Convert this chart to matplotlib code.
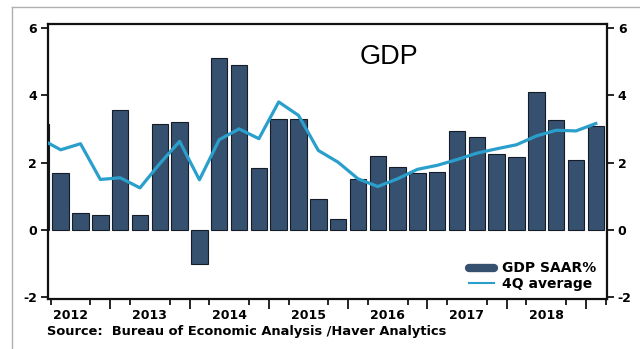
import numpy as np
import matplotlib.pyplot as plt
from matplotlib.lines import Line2D

# quarterly data, 2012Q1 .. 2019Q1
quarters = ['2012Q1', '2012Q2', '2012Q3', '2012Q4',
            '2013Q1', '2013Q2', '2013Q3', '2013Q4',
            '2014Q1', '2014Q2', '2014Q3', '2014Q4',
            '2015Q1', '2015Q2', '2015Q3', '2015Q4',
            '2016Q1', '2016Q2', '2016Q3', '2016Q4',
            '2017Q1', '2017Q2', '2017Q3', '2017Q4',
            '2018Q1', '2018Q2', '2018Q3', '2018Q4',
            '2019Q1']
gdp_saar = [3.15, 1.70, 0.49, 0.45, 3.57, 0.46, 3.14, 3.19,
            -1.01, 5.09, 4.89, 1.85, 3.30, 3.30, 0.92, 0.33,
            1.50, 2.21, 1.88, 1.69, 1.72, 2.93, 2.75, 2.26,
            2.16, 4.10, 3.27, 2.08, 3.10]
avg_4q = [2.70, 2.38, 2.56, 1.50, 1.55, 1.25, 1.97, 2.63,
          1.49, 2.68, 3.00, 2.71, 3.80, 3.40, 2.36, 2.01,
          1.52, 1.29, 1.52, 1.80, 1.92, 2.09, 2.28, 2.41,
          2.53, 2.79, 2.96, 2.94, 3.16]
years = [2012, 2013, 2014, 2015, 2016, 2017, 2018]
yticks = [-2, 0, 2, 4, 6]

bar_color = '#36506f'
line_color = '#2a9fcc'

x = np.arange(len(quarters)) - 1  # 2012Q2 sits at 0

fig = plt.figure(figsize=(6.4, 3.49), dpi=100)
ax = fig.add_axes([0.075, 0.143, 0.873, 0.787])

ax.bar(x, gdp_saar, width=0.83, color=bar_color, edgecolor='#141c28', linewidth=0.8, zorder=2)
ax.plot(x, avg_4q, color=line_color, lw=2.3, zorder=3)

ax.set_xlim(-0.64, 27.55)
ax.set_ylim(-2.05, 6.1)
ax.set_yticks(yticks)
ax.set_yticklabels([str(v) for v in yticks])

for s in ax.spines.values():
    s.set_linewidth(1.6)
    s.set_color('#111111')

# long ticks at year boundaries, short ones at Q1/Q2 and Q3/Q4
year_bounds = [2.5 + 4 * i for i in range(len(years))]
quarter_bounds = [b for i in range(len(years) + 1)
                  for b in (-0.5 + 4 * i, 1.5 + 4 * i) if b < 27.6]
ax.set_xticks(year_bounds)
ax.set_xticklabels([])
ax.set_xticks(quarter_bounds, minor=True)
ax.tick_params(axis='x', which='major', length=7, width=1.2, direction='out')
ax.tick_params(axis='x', which='minor', length=4, width=1.2, direction='out')
ax.tick_params(axis='y', length=5, width=1.2, direction='out', right=True,
               labelright=True, labelsize=9, pad=3)
for lab in ax.get_yticklabels():
    lab.set_fontweight('bold')

for i, yr in enumerate(years):
    ax.text(0.5 + 4 * i, -0.035, str(yr), transform=ax.get_xaxis_transform(),
            ha='center', va='top', fontsize=9, fontweight='bold')

fig.text(0.608, 0.837, 'GDP', family='Liberation Sans', fontsize=19.5,
         ha='center', va='center')
fig.text(0.073, 0.049, 'Source:  Bureau of Economic Analysis /Haver Analytics',
         fontsize=9.4, fontweight='bold', ha='left', va='center')

handles = [Line2D([], [], color=bar_color, lw=6, solid_capstyle='round'),
           Line2D([], [], color=line_color, lw=1.5)]
ax.legend(handles, ['GDP SAAR%', '4Q average'], loc='lower right',
          bbox_to_anchor=(0.982, 0.03), frameon=False, handlelength=1.8,
          handletextpad=0.6, borderaxespad=0, borderpad=0,
          labelspacing=0.1, prop={'weight': 'bold', 'size': 10})

# scanned page frame
fig.add_artist(Line2D([12 / 640, 12 / 640], [0, 1 - 7 / 349], color='#b0b0b0', lw=1))
fig.add_artist(Line2D([12 / 640, 1], [1 - 7 / 349, 1 - 7 / 349], color='#b0b0b0', lw=1))

fig.savefig('out.png', dpi=100)
